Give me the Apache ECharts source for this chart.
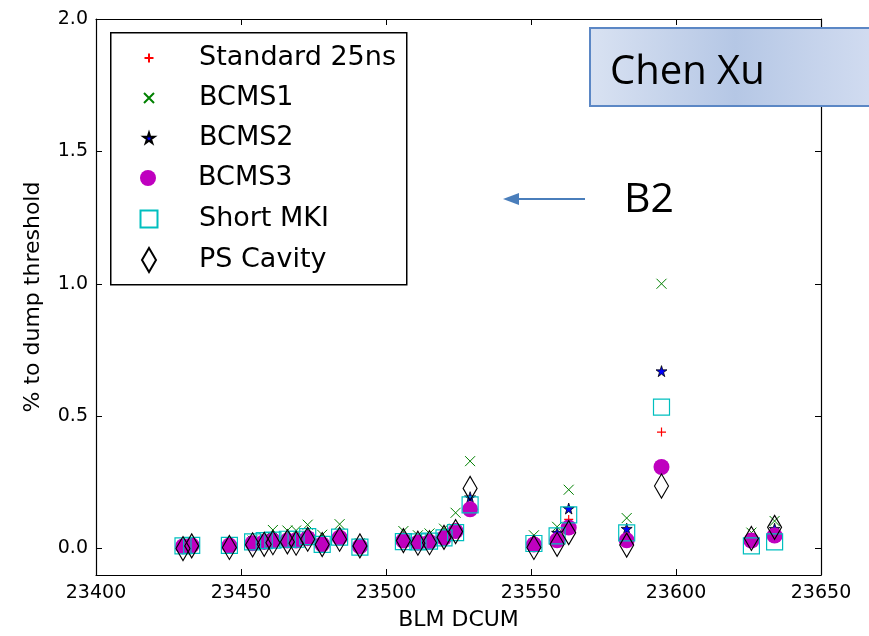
<!DOCTYPE html>
<html>
<head>
<meta charset="utf-8">
<script src="https://cdn.jsdelivr.net/npm/echarts@6/dist/echarts.min.js"></script>
<style>
    html, body { margin: 0; padding: 0; background: #fff; }
    #chart { width: 869px; height: 636px; }
</style>
</head>
<body>
<div id="chart"></div>
<script>
// BLM positions (DCUM) and % to dump threshold for each beam type
const dcum = [23430, 23433, 23446, 23454, 23458, 23461, 23466, 23469, 23473, 23478, 23484, 23491,
    23506, 23511, 23515, 23520, 23524, 23529, 23551, 23559, 23563, 23583, 23595, 23626, 23634]
const standard25ns = [0.008, 0.01, 0.01, 0.02, 0.022, 0.03, 0.03, 0.028, 0.036, 0.018, 0.04, 0.008,
    0.028, 0.022, 0.024, 0.038, 0.058, 0.16, 0.018, 0.03, 0.11, 0.03, 0.44, 0.02, 0.045]
const bcms1 = [0.01, 0.012, 0.014, 0.03, 0.04, 0.07, 0.068, 0.068, 0.09, 0.052, 0.092, 0.02,
    0.066, 0.05, 0.057, 0.075, 0.135, 0.33, 0.05, 0.082, 0.222, 0.115, 1.0, 0.06, 0.104]
const bcms2 = [0.01, 0.012, 0.013, 0.025, 0.03, 0.04, 0.04, 0.04, 0.055, 0.03, 0.055, 0.012,
    0.04, 0.03, 0.03, 0.05, 0.075, 0.194, 0.03, 0.06, 0.151, 0.075, 0.67, 0.03, 0.075]
const bcms3 = [0.008, 0.012, 0.011, 0.02, 0.025, 0.03, 0.03, 0.03, 0.039, 0.016, 0.041, 0.008,
    0.03, 0.022, 0.025, 0.04, 0.066, 0.148, 0.015, 0.031, 0.079, 0.031, 0.308, 0.03, 0.049]
const shortMki = [0.01, 0.012, 0.012, 0.025, 0.03, 0.032, 0.035, 0.035, 0.045, 0.016, 0.043, 0.005,
    0.026, 0.025, 0.028, 0.04, 0.06, 0.165, 0.019, 0.048, 0.127, 0.059, 0.534, 0.01, 0.025]
const psCavity = [0.0, 0.01, 0.004, 0.014, 0.016, 0.022, 0.025, 0.02, 0.035, 0.015, 0.035, 0.01,
    0.03, 0.02, 0.022, 0.042, 0.064, 0.227, 0.004, 0.016, 0.06, 0.013, 0.236, 0.038, 0.08]
const yTicks = [0, 0.5, 1.0, 1.5, 2.0]

const FONT = "DejaVu Sans"
const pair = (ys) => dcum.map((x, i) => [x, ys[i]])

const STAR = 'path://M50,0L61,35L98,35L68,57L79,91L50,70L21,91L32,57L2,35L39,35Z'
const PLUS = 'path://M0,5L10,5M5,0L5,10'
const CROSS = 'path://M0,0L10,10M10,0L0,10'

const seriesDefs = [
    { name: 'Standard 25ns', data: standard25ns, symbol: PLUS, size: 9, icon: [9, 9],
        itemStyle: { color: 'transparent', borderColor: '#ff0000', borderWidth: 1.2, opacity: 1 } },
    { name: 'BCMS1', data: bcms1, symbol: CROSS, size: 10, icon: [10, 10],
        itemStyle: { color: 'transparent', borderColor: '#008000', borderWidth: 1, opacity: 1 } },
    { name: 'BCMS2', data: bcms2, symbol: STAR, size: 11, icon: [11, 11],
        itemStyle: { color: '#0000ff', borderColor: '#000', borderWidth: 0.8, opacity: 1 } },
    { name: 'BCMS3', data: bcms3, symbol: 'circle', size: 16, icon: [16, 16],
        itemStyle: { color: '#bf00bf', borderWidth: 0, opacity: 1 } },
    { name: 'Short MKI', data: shortMki, symbol: 'rect', size: 16, icon: [17, 17],
        itemStyle: { color: 'transparent', borderColor: '#00bfbf', borderWidth: 1.2, opacity: 1 } },
    { name: 'PS Cavity', data: psCavity, symbol: 'diamond', size: [14, 24], icon: [14, 24],
        itemStyle: { color: 'transparent', borderColor: '#000', borderWidth: 1.2, opacity: 1 } }
]

const legendRows = [58, 98, 138, 178, 219, 260]
const legends = seriesDefs.map((s, i) => {
    const w = s.icon[0]
    return {
        data: [s.name],
        orient: 'vertical',
        left: 148 - w / 2,
        top: legendRows[i] - 16,
        padding: 0,
        itemWidth: w,
        itemHeight: s.icon[1],
        selectedMode: false,
        textStyle: {
            fontFamily: FONT, fontSize: 27, color: '#000', lineHeight: 32,
            padding: [0, 0, 0, 198 - (148 + w / 2) - 5]
        }
    }
})

const myChart = echarts.init(document.getElementById('chart'))

const axisCommon = {
    axisLine: { show: true, onZero: false, lineStyle: { color: '#000', width: 1.2 } },
    splitLine: { show: false }
}

const option = {
    animation: false,
    backgroundColor: '#fff',
    grid: { left: 96, right: 48, top: 19, bottom: 59 },
    legend: legends,
    xAxis: [
        Object.assign({
            type: 'value', min: 23400, max: 23650, interval: 50,
            name: 'BLM DCUM', nameLocation: 'middle', nameGap: 34,
            nameTextStyle: { fontFamily: FONT, fontSize: 22, color: '#000' },
            axisTick: { inside: true, length: 6, lineStyle: { color: '#000' } },
            axisLabel: { fontFamily: FONT, fontSize: 19, color: '#000', margin: 9,
                formatter: (v) => String(v) }
        }, axisCommon),
        Object.assign({
            type: 'value', min: 23400, max: 23650, interval: 50, position: 'top',
            axisTick: { inside: true, length: 6, lineStyle: { color: '#000' } },
            axisLabel: { show: false }
        }, axisCommon)
    ],
    yAxis: [
        Object.assign({
            type: 'value', min: -0.1, max: 2.0,
            name: '% to dump threshold', nameLocation: 'middle', nameGap: 52, nameRotate: 90,
            nameTextStyle: { fontFamily: FONT, fontSize: 22, color: '#000' },
            axisTick: { inside: true, length: 6, customValues: yTicks, lineStyle: { color: '#000' } },
            axisLabel: {
                fontFamily: FONT, fontSize: 19, color: '#000', margin: 8, customValues: yTicks,
                formatter: (v) => v.toFixed(1)
            }
        }, axisCommon),
        Object.assign({
            type: 'value', min: -0.1, max: 2.0, position: 'right',
            axisTick: { inside: true, length: 6, customValues: yTicks, lineStyle: { color: '#000' } },
            axisLabel: { show: false }
        }, axisCommon)
    ],
    series: seriesDefs.map((s, i) => ({
        name: s.name,
        type: 'scatter',
        xAxisIndex: 0,
        yAxisIndex: 0,
        symbol: s.symbol,
        symbolSize: s.size,
        itemStyle: s.itemStyle,
        z: 2 + i,
        data: pair(s.data)
    })),
    graphic: [
        // legend frame
        { type: 'rect', left: 110, top: 32, z: 1, silent: true,
            shape: { width: 296, height: 252 },
            style: { fill: '#fff', stroke: '#000', lineWidth: 1.5 } },
        // name box
        { type: 'rect', left: 589, top: 27, z: 20, silent: true,
            shape: { width: 290, height: 78 },
            style: {
                fill: new echarts.graphic.LinearGradient(0, 0, 1, 0, [
                    { offset: 0, color: '#d9e2f2' },
                    { offset: 0.5, color: '#b5c7e5' },
                    { offset: 1, color: '#d3ddf1' }
                ]),
                stroke: '#5b87c5', lineWidth: 2
            } },
        { type: 'text', left: 610, top: 53, z: 21, silent: true,
            style: { text: 'Chen Xu', font: '40px "Open Sans", sans-serif', fill: '#000' } },
        { type: 'text', left: 624, top: 180, z: 21, silent: true,
            style: { text: 'B2', font: '41px "Open Sans", sans-serif', fill: '#000' } },
        // arrow
        { type: 'line', z: 21, silent: true,
            shape: { x1: 585, y1: 199, x2: 515, y2: 199 },
            style: { stroke: '#4a7ebb', lineWidth: 2 } },
        { type: 'polygon', z: 21, silent: true,
            shape: { points: [[503, 199], [519, 193], [519, 205]] },
            style: { fill: '#4a7ebb' } }
    ]
}

myChart.setOption(option)

window.addEventListener("resize", function () {
    myChart.resize()
})
</script>
</body>
</html>
